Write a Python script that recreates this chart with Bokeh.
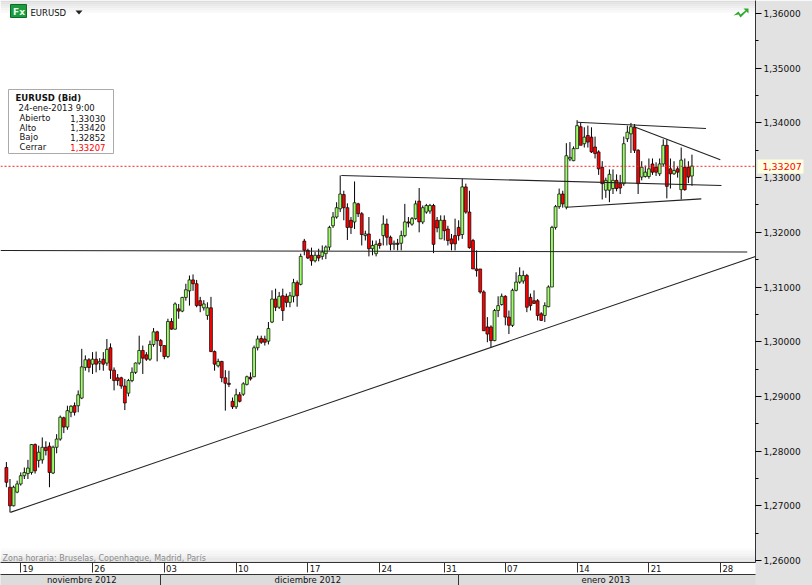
from bokeh.plotting import figure
from bokeh.embed import file_html
from bokeh.resources import INLINE
from bokeh.models import (Range1d, LinearAxis, FixedTicker, Span, Label, BoxAnnotation, PolyAnnotation)

# 6-hour EURUSD candles, prices in 1/10000
opens = [12770,12734,12700,12725,12740,12755,12759,12761,12812,12783,12784,12807,12809,12760,12807,12822,12861,12844,12871,12883,
12883,12897,12953,12967,12959,12968,12961,12968,12961,12989,12948,12934,12934,12919,12906,12929,12944,12961,12984,12976,
12968,12995,13018,13002,12993,12973,13037,13023,13060,13056,13081,13093,13113,13106,13075,13062,13048,13062,12982,12956,
12964,12934,12924,12891,12881,12903,12904,12922,12935,12936,12989,13006,13005,13001,13036,13078,13063,13084,13083,13072,
13083,13108,13105,13184,13167,13158,13148,13158,13156,13161,13173,13212,13228,13243,13269,13245,13222,13219,13252,13234,
13194,13197,13170,13161,13180,13194,13215,13191,13178,13180,13180,13194,13219,13215,13225,13257,13219,13237,13239,13249,
13222,13188,13222,13206,13188,13194,13209,13196,13283,13237,13185,13133,13133,13091,13027,13027,13002,13057,13068,13083,
13045,13030,13094,13109,13111,13121,13081,13075,13075,13051,13048,13064,13100,13209,13247,13270,13246,13334,13331,13353,
13393,13362,13377,13374,13356,13347,13319,13277,13277,13280,13295,13289,13289,13371,13380,13392,13350,13301,13302,13302,
13325,13319,13307,13325,13359,13316,13307,13316,13278,13319,13319,13303]
highs = [12780,12749,12737,12746,12761,12770,12784,12813,12814,12810,12825,12818,12816,12810,12831,12865,12863,12883,12884,12889,
12911,12987,12975,12970,12981,12982,12970,12981,13005,12997,12953,12941,12936,12932,12932,12953,12962,13011,12993,12981,
13002,13025,13020,13005,12993,13042,13043,13072,13069,13082,13106,13121,13123,13113,13082,13076,13072,13082,12984,12969,
12965,12948,12947,12898,12914,12908,12926,12938,12944,12993,13011,13011,13011,13036,13094,13097,13091,13097,13088,13091,
13115,13112,13161,13188,13170,13172,13164,13170,13176,13176,13212,13237,13255,13304,13276,13253,13228,13293,13254,13237,
13203,13228,13185,13185,13188,13231,13225,13194,13185,13188,13203,13252,13228,13228,13258,13281,13249,13252,13252,13252,
13228,13231,13231,13212,13197,13225,13222,13298,13289,13276,13188,13167,13133,13094,13045,13030,13060,13083,13088,13085,
13057,13097,13127,13136,13130,13124,13088,13094,13078,13054,13072,13103,13212,13250,13280,13276,13363,13365,13357,13405,
13400,13392,13395,13392,13375,13350,13330,13300,13315,13315,13306,13305,13375,13395,13400,13398,13352,13330,13322,13335,
13335,13328,13335,13370,13370,13335,13330,13320,13355,13335,13330,13342]
lows = [12734,12688,12699,12723,12737,12749,12749,12757,12759,12770,12777,12792,12734,12758,12796,12819,12833,12839,12862,12865,
12871,12895,12947,12944,12941,12944,12948,12947,12956,12932,12911,12920,12914,12875,12900,12926,12941,12958,12941,12965,
12965,12991,12964,12981,12968,12970,13022,13022,13042,13054,13075,13066,13093,13063,13054,13057,13040,12981,12947,12953,
12926,12874,12917,12877,12877,12889,12901,12920,12929,12935,12984,12996,12993,12995,13034,13056,13060,13038,13063,13063,
13072,13064,13103,13158,13151,13139,13145,13147,13150,13151,13167,13208,13225,13237,13222,13186,13197,13206,13228,13176,
13185,13156,13158,13156,13170,13176,13176,13167,13168,13167,13167,13191,13209,13212,13223,13200,13215,13234,13234,13162,
13200,13188,13185,13176,13167,13167,13185,13188,13234,13170,13133,13119,13088,13020,12999,12990,13001,13045,13066,13030,
13014,13027,13092,13106,13106,13054,13057,13069,13039,13038,13036,13063,13100,13205,13243,13245,13242,13330,13330,13355,
13365,13355,13355,13345,13335,13305,13260,13263,13255,13270,13275,13270,13285,13365,13345,13345,13270,13295,13300,13298,
13305,13303,13303,13320,13262,13280,13305,13300,13260,13276,13290,13285]
closes = [12743,12700,12734,12740,12755,12761,12769,12812,12764,12798,12807,12801,12761,12807,12822,12862,12844,12874,12882,12871,
12903,12954,12967,12953,12968,12959,12964,12959,12986,12948,12929,12929,12919,12888,12929,12944,12961,12984,12970,12968,
12995,13018,13002,12993,12973,13037,13023,13069,13056,13081,13095,13113,13106,13066,13066,13069,13062,12982,12959,12964,
12934,12924,12922,12881,12903,12891,12923,12936,12932,12989,13005,12999,12999,13024,13078,13063,13083,13057,13072,13084,
13108,13084,13156,13167,13153,13148,13158,13153,13164,13173,13209,13228,13245,13270,13245,13209,13209,13254,13234,13196,
13197,13170,13176,13178,13176,13215,13191,13178,13180,13178,13194,13219,13217,13225,13252,13219,13245,13249,13249,13178,
13208,13222,13203,13185,13179,13179,13194,13283,13237,13172,13133,13130,13091,13020,13014,13002,13057,13066,13083,13045,
13030,13094,13109,13121,13121,13063,13066,13070,13048,13039,13066,13100,13209,13247,13270,13252,13340,13337,13353,13395,
13359,13374,13365,13347,13344,13316,13289,13295,13306,13295,13280,13281,13362,13383,13393,13350,13289,13319,13310,13316,
13310,13310,13325,13359,13284,13307,13313,13310,13332,13278,13301,13321]

price_ticks = [1.26, 1.27, 1.28, 1.29, 1.30, 1.31, 1.32, 1.33, 1.34, 1.35, 1.36]
price_minor = [1.265, 1.275, 1.285, 1.295, 1.305, 1.315, 1.325, 1.335, 1.345, 1.355]
price_labels = ["1,26000","1,27000","1,28000","1,29000","1,30000","1,31000","1,32000","1,33000","1,34000","1,35000","1,36000"]
date_bars = [4, 24, 44, 64, 84, 104, 122, 139, 159, 179, 199]
date_labels = ["19","26","03","10","17","24","31","07","14","21","28"]
month_bars = [43, 126]
month_centers = [21, 84, 167]
month_labels = ["noviembre 2012", "diciembre 2012", "enero 2013"]
last_close = 1.33207
last_close_label = "1,33207"

# drawn trend lines: (bar, price) pairs
trend_lines = [
    ([1.1, 208.7], [1.2688, 1.31558]),
    ([-1.64, 206.4], [1.31667, 1.31640]),
    ([93.3, 199.2], [1.33038, 1.32856]),
    ([156.0, 193.6], [1.32459, 1.32612]),
    ([159.0, 194.9], [1.34013, 1.33898]),
    ([174.7, 198.9], [1.33934, 1.33325]),
]

W, H = 812, 585
FH = 562   # frame height
def up(y): return FH - y

FONT = "DejaVu Sans"
p = figure(width=W, height=H, output_backend="svg", toolbar_location=None,
           x_range=Range1d(-1.64, 208.7), y_range=Range1d(1.36238 - FH / 5470, 1.36238),
           frame_width=755, frame_height=FH,
           x_axis_location=None, y_axis_location=None,
           min_border=0, min_border_left=0, min_border_top=0, min_border_right=57, min_border_bottom=0,
           background_fill_color="white", border_fill_color="#e2e2e2", outline_line_color=None)
p.grid.visible = False

# chrome gradients
def shade(y0, y1, grey):
    p.add_layout(BoxAnnotation(left=0, right=755, top=up(y0), bottom=up(y1),
                               left_units="screen", right_units="screen", top_units="screen", bottom_units="screen",
                               fill_color=grey, fill_alpha=1, line_color=None, level="underlay"))
for k, g in enumerate(["#dcdcdc", "#e2e2e2", "#e8e8e8", "#eeeeee", "#f3f3f3", "#f8f8f8"]):
    shade(2 * k, 2 * k + 2, g)
for k, g in enumerate(["#fbfbfb", "#f7f7f7", "#f3f3f3", "#eeeeee", "#e8e8e8", "#e2e2e2"]):
    shade(548 + 2.4 * k, 548 + 2.4 * (k + 1), g)

# candles
xs = list(range(len(opens)))
o = [v / 10000 for v in opens]; h = [v / 10000 for v in highs]
l = [v / 10000 for v in lows]; c = [v / 10000 for v in closes]
colors = ["#9cff66" if b >= a else "#ff0000" for a, b in zip(o, c)]
p.segment(xs, l, xs, h, line_color="#000000", line_width=1)
p.vbar(x=xs, top=[max(a, b) for a, b in zip(o, c)], bottom=[min(a, b) for a, b in zip(o, c)],
       width=0.8, fill_color=colors, line_color="#000000", line_width=0.7)

# trend lines
for tx, ty in trend_lines:
    p.line(tx, ty, line_color="#222222", line_width=1.1)

p.add_layout(Span(location=last_close, dimension="width", line_color="#ff2020", line_width=1, line_dash="2 2"))

# axes
ya = LinearAxis(ticker=FixedTicker(ticks=price_ticks, minor_ticks=price_minor),
                major_label_overrides=dict(zip(price_ticks, price_labels)),
                major_tick_in=0, major_tick_out=6, minor_tick_in=0, minor_tick_out=3,
                major_label_standoff=2, major_label_text_font=FONT, major_label_text_font_size="9px",
                major_label_text_color="#111111", axis_line_color="#333333")
p.add_layout(ya, "right")

# price tag of the last close, an axis of its own laid over the price axis
tag = LinearAxis(ticker=FixedTicker(ticks=[last_close], minor_ticks=[last_close]),
                 major_label_overrides={last_close: last_close_label},
                 major_tick_in=0, major_tick_out=0, minor_tick_in=46, minor_tick_out=0,
                 minor_tick_line_color="#ffffe1", minor_tick_line_width=14,
                 major_label_standoff=-41, major_label_text_font=FONT, major_label_text_font_size="9.5px",
                 major_label_text_color="#ff0000", axis_line_color=None)
p.add_layout(tag, "right")

da = LinearAxis(ticker=FixedTicker(ticks=[b + 2 for b in date_bars], minor_ticks=date_bars),
                major_label_overrides=dict(zip([b + 2 for b in date_bars], date_labels)),
                major_tick_in=0, major_tick_out=0, minor_tick_in=0, minor_tick_out=10,
                minor_tick_line_color="#333333", major_label_standoff=-8,
                major_label_text_font=FONT, major_label_text_font_size="8.5px", major_label_text_color="#111111",
                axis_line_color="#333333", background_fill_color="white")
p.add_layout(da, "below")

ma = LinearAxis(ticker=FixedTicker(ticks=month_centers, minor_ticks=month_bars),
                major_label_overrides=dict(zip(month_centers, month_labels)),
                major_tick_in=0, major_tick_out=0, minor_tick_in=0, minor_tick_out=11,
                minor_tick_line_color="#333333", major_label_standoff=-11,
                major_label_text_font=FONT, major_label_text_font_size="8.5px", major_label_text_color="#111111",
                axis_line_color="#333333", background_fill_color="#dcdcdc")
p.add_layout(ma, "below")

def label(x, y, text, **kw):
    kw.setdefault("text_font", FONT)
    kw.setdefault("text_font_size", "8.5px")
    kw.setdefault("text_baseline", "middle")
    kw.setdefault("text_color", "#111111")
    kw.setdefault("level", "overlay")
    p.add_layout(Label(x=x, y=up(y), x_units="screen", y_units="screen", text=text, **kw))

def box(x0, y0, x1, y1, fill, line=None, lw=1):
    p.add_layout(BoxAnnotation(left=x0, right=x1, top=up(y0), bottom=up(y1),
                               left_units="screen", right_units="screen", top_units="screen", bottom_units="screen",
                               fill_color=fill, fill_alpha=1, line_color=line, line_alpha=1, line_width=lw, level="overlay"))

# header
box(10, 4, 26, 17, "#1f9b3f", "#0c6e26")
label(12.5, 11, "Fx", text_color="#e8ffe8", text_font_style="bold", text_font_size="9px")
label(30, 12, "EURUSD", text_font_size="8.5px")
p.add_layout(PolyAnnotation(xs=[75, 82, 78.5], ys=[up(10), up(10), up(14)],
                            xs_units="screen", ys_units="screen", fill_color="#222222", fill_alpha=1, line_color=None))
p.add_layout(PolyAnnotation(xs=[733, 738, 740, 745, 743, 748, 748, 746, 740, 738],
                            ys=[up(15), up(11), up(14), up(10), up(8), up(8), up(13), up(11), up(17), up(14)],
                            xs_units="screen", ys_units="screen", fill_color="#2faa2f", fill_alpha=1, line_color=None))

# info box
box(8, 89, 113, 153, "white", "#aaaaaa")
label(15, 97, "EURUSD (Bid)", text_font_style="bold")
label(18, 107, "24-ene-2013 9:00")
info_names = ["Abierto", "Alto", "Bajo", "Cerrar"]
info_vals = ["1,33030", "1,33420", "1,32852", "1,33207"]
for k, (n, v) in enumerate(zip(info_names, info_vals)):
    label(19, 117.5 + 9.7 * k, n)
    label(105, 117.5 + 9.7 * k, v, text_align="right", text_color="#ff0000" if k == 3 else "#111111")

label(2, 558, "Zona horaria: Bruselas, Copenhague, Madrid, París", text_color="#8a8a8a", text_font_size="8px")

open("out.html", "w").write(file_html(p, INLINE))
print(len(opens), len(highs), len(lows), len(closes))
